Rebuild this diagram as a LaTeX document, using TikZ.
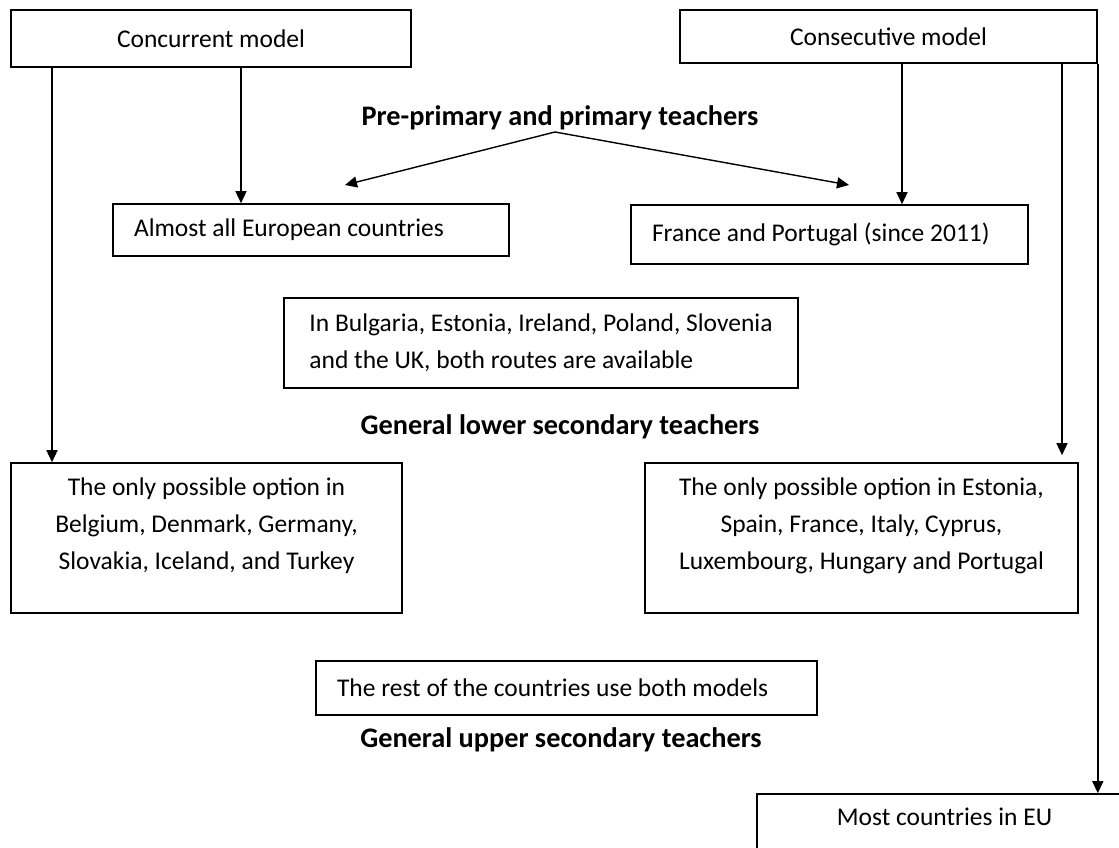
\documentclass[tikz,border=0pt]{standalone}
\usepackage{fontspec}
\setmainfont{Carlito}
\usetikzlibrary{arrows.meta}

\begin{document}
\begin{tikzpicture}[x=1pt,y=-1pt,
    box/.style={draw, line width=1.6pt, inner sep=0pt, align=center, font=\fontsize{25.5}{37}\selectfont},
    padbox/.style={box, align=flush left, inner xsep=21pt},
    level/.style={font=\fontsize{28.3}{34}\selectfont\bfseries},
    arr/.style={line width=1.4pt, -{Triangle[length=12pt,width=11pt]}}]
    \path[use as bounding box, clip] (0,0) rectangle (1119,848); %page
    % the two models
    \node[box, minimum width=400pt, minimum height=57pt] (conc) at (211,38.5) {Concurrent model};
    \node[box, minimum width=417pt, minimum height=53pt] (cons) at (888.5,36.5) {Consecutive model};
    % pre-primary and primary
    \node[level] (prim) at (560,118) {Pre-primary and primary teachers};
    \node[padbox, text width=354pt, minimum height=52pt] (almost) at (311,230) {Almost all European countries};
    \node[padbox, text width=355pt, minimum height=59pt] (france) at (829.5,234.5) {France and Portugal (since 2011)};
    \node[box, align=left, minimum width=514pt, minimum height=90pt] (both) at (541,343) {In Bulgaria, Estonia, Ireland, Poland, Slovenia\\and the UK, both routes are available};
    % lower secondary
    \node[level] (lower) at (560,427) {General lower secondary teachers};
    \node[box, minimum width=391pt, minimum height=150pt, text depth=28pt] (belg) at (206.5,538) {The only possible option in\\Belgium, Denmark, Germany,\\Slovakia, Iceland, and Turkey};
    \node[box, minimum width=433pt, minimum height=150pt, text depth=28pt] (est) at (861.5,538) {The only possible option in Estonia,\\Spain, France, Italy, Cyprus,\\Luxembourg, Hungary and Portugal};
    \node[padbox, text width=459pt, minimum height=54pt] (rest) at (566.5,688) {The rest of the countries use both models};
    % upper secondary
    \node[level] (upper) at (561,740) {General upper secondary teachers};
    \node[box, minimum width=375pt, minimum height=80pt, text depth=34pt] (most) at (944.5,834) {Most countries in EU};
    % connectors
    \coordinate (fork) at (555,132);
    \coordinate (tipL) at (345,185);
    \coordinate (tipR) at (849,185);
    \draw[arr] (fork) -- (tipL);
    \draw[arr] (fork) -- (tipR);
    \draw[arr] (conc.south -| 241,0) -- (almost.north -| 241,0);
    \draw[arr] (cons.south -| 902,0) -- (france.north -| 902,0);
    \draw[arr] (conc.south -| 52,0) -- (belg.north -| 52,0);
    \draw[arr, shorten >=7pt] (cons.south -| 1062,0) -- (est.north -| 1062,0);
    \draw[arr] (cons.south east) -- (most.north -| cons.south east);
\end{tikzpicture}
\end{document}
